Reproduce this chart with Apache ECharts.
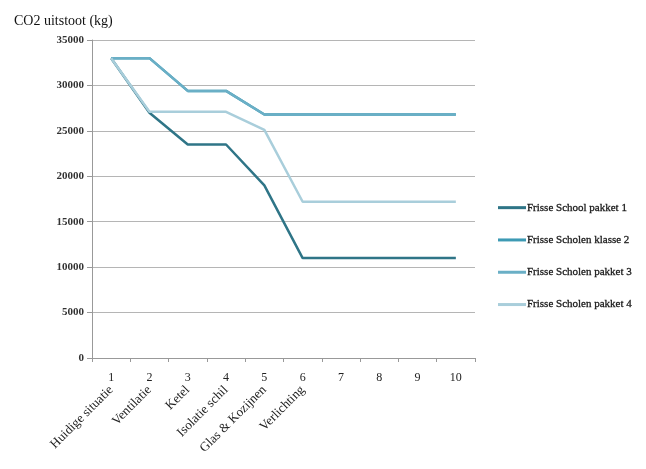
<!DOCTYPE html>
<html>
<head>
<meta charset="utf-8">
<script src="https://cdn.jsdelivr.net/npm/echarts@6/dist/echarts.min.js"></script>
<style>html,body{margin:0;padding:0;background:#fff;}#c{width:646px;height:469px;}</style>
</head>
<body>
<div id="c"></div>
<script>
var categories = ['1','2','3','4','5','6','7','8','9','10'];
var stepNames = ['Huidige situatie','Ventilatie','Ketel','Isolatie schil','Glas & Kozijnen','Verlichting','','','',''];
var seriesNames = ['Frisse School pakket 1','Frisse Scholen klasse 2','Frisse Scholen pakket 3','Frisse Scholen pakket 4'];
var pakket1 = [33000, 27000, 23500, 23500, 19000, 11000, 11000, 11000, 11000, 11000];
var klasse2 = [33000, 33000, 29400, 29400, 26800, 26800, 26800, 26800, 26800, 26800];
var pakket3 = [33000, 33000, 29400, 29400, 26800, 26800, 26800, 26800, 26800, 26800];
var pakket4 = [33000, 27100, 27100, 27100, 25100, 17200, 17200, 17200, 17200, 17200];
var yTicks = [0, 5000, 10000, 15000, 20000, 25000, 30000, 35000];
var colors = ['#2f7587', '#3d9ab4', '#6aafc6', '#a9cedb'];

var chart = echarts.init(document.getElementById('c'));
var font = 'Liberation Serif';
function mk(name, data, i) {
  return {name: name, type: 'line', data: data, symbol: 'none', z: 2 + i,
    lineStyle: {color: colors[i], width: 2.5}, itemStyle: {color: colors[i]}};
}
chart.setOption({
  animation: false,
  color: colors,
  title: {text: 'CO2 uitstoot (kg)', left: 9, top: 9,
    textStyle: {fontFamily: font, fontSize: 14, fontWeight: 'normal', color: '#111'}},
  legend: {orient: 'vertical', left: 493, top: 197, itemGap: 21, itemWidth: 28, itemHeight: 3,
    icon: 'rect', data: seriesNames,
    textStyle: {fontFamily: font, fontSize: 11, fontWeight: 'normal', color: '#1a1a1a', padding: [0,0,0,-4],
      textBorderColor: '#1a1a1a', textBorderWidth: 0.3}},
  grid: {left: 92, right: 171, top: 40, bottom: 111, containLabel: false},
  xAxis: [{
    type: 'category', data: categories, boundaryGap: true,
    axisLine: {lineStyle: {color: '#999'}},
    axisTick: {show: true, length: 4, lineStyle: {color: '#999'}},
    axisLabel: {fontFamily: font, fontSize: 12, color: '#222', margin: 14}
  }, {
    type: 'category', data: stepNames, boundaryGap: true, position: 'bottom', offset: 26,
    axisLine: {show: false}, axisTick: {show: false},
    axisLabel: {fontFamily: font, fontSize: 13, color: '#222', rotate: 45, interval: 0, margin: 4}
  }],
  yAxis: {
    type: 'value', min: 0, max: 35000, interval: 5000,
    axisLine: {show: true, lineStyle: {color: '#999'}},
    axisTick: {show: true, length: 5, lineStyle: {color: '#999'}},
    axisLabel: {fontFamily: font, fontSize: 11, fontWeight: 'bold', color: '#333', margin: 8,
      formatter: function (v) { return yTicks.indexOf(v) >= 0 ? String(v) : ''; }},
    splitLine: {lineStyle: {color: '#b5b5b5', width: 1.2}}
  },
  series: [mk(seriesNames[0], pakket1, 0), mk(seriesNames[1], klasse2, 1),
           mk(seriesNames[2], pakket3, 2), mk(seriesNames[3], pakket4, 3)]
});
</script>
</body>
</html>
